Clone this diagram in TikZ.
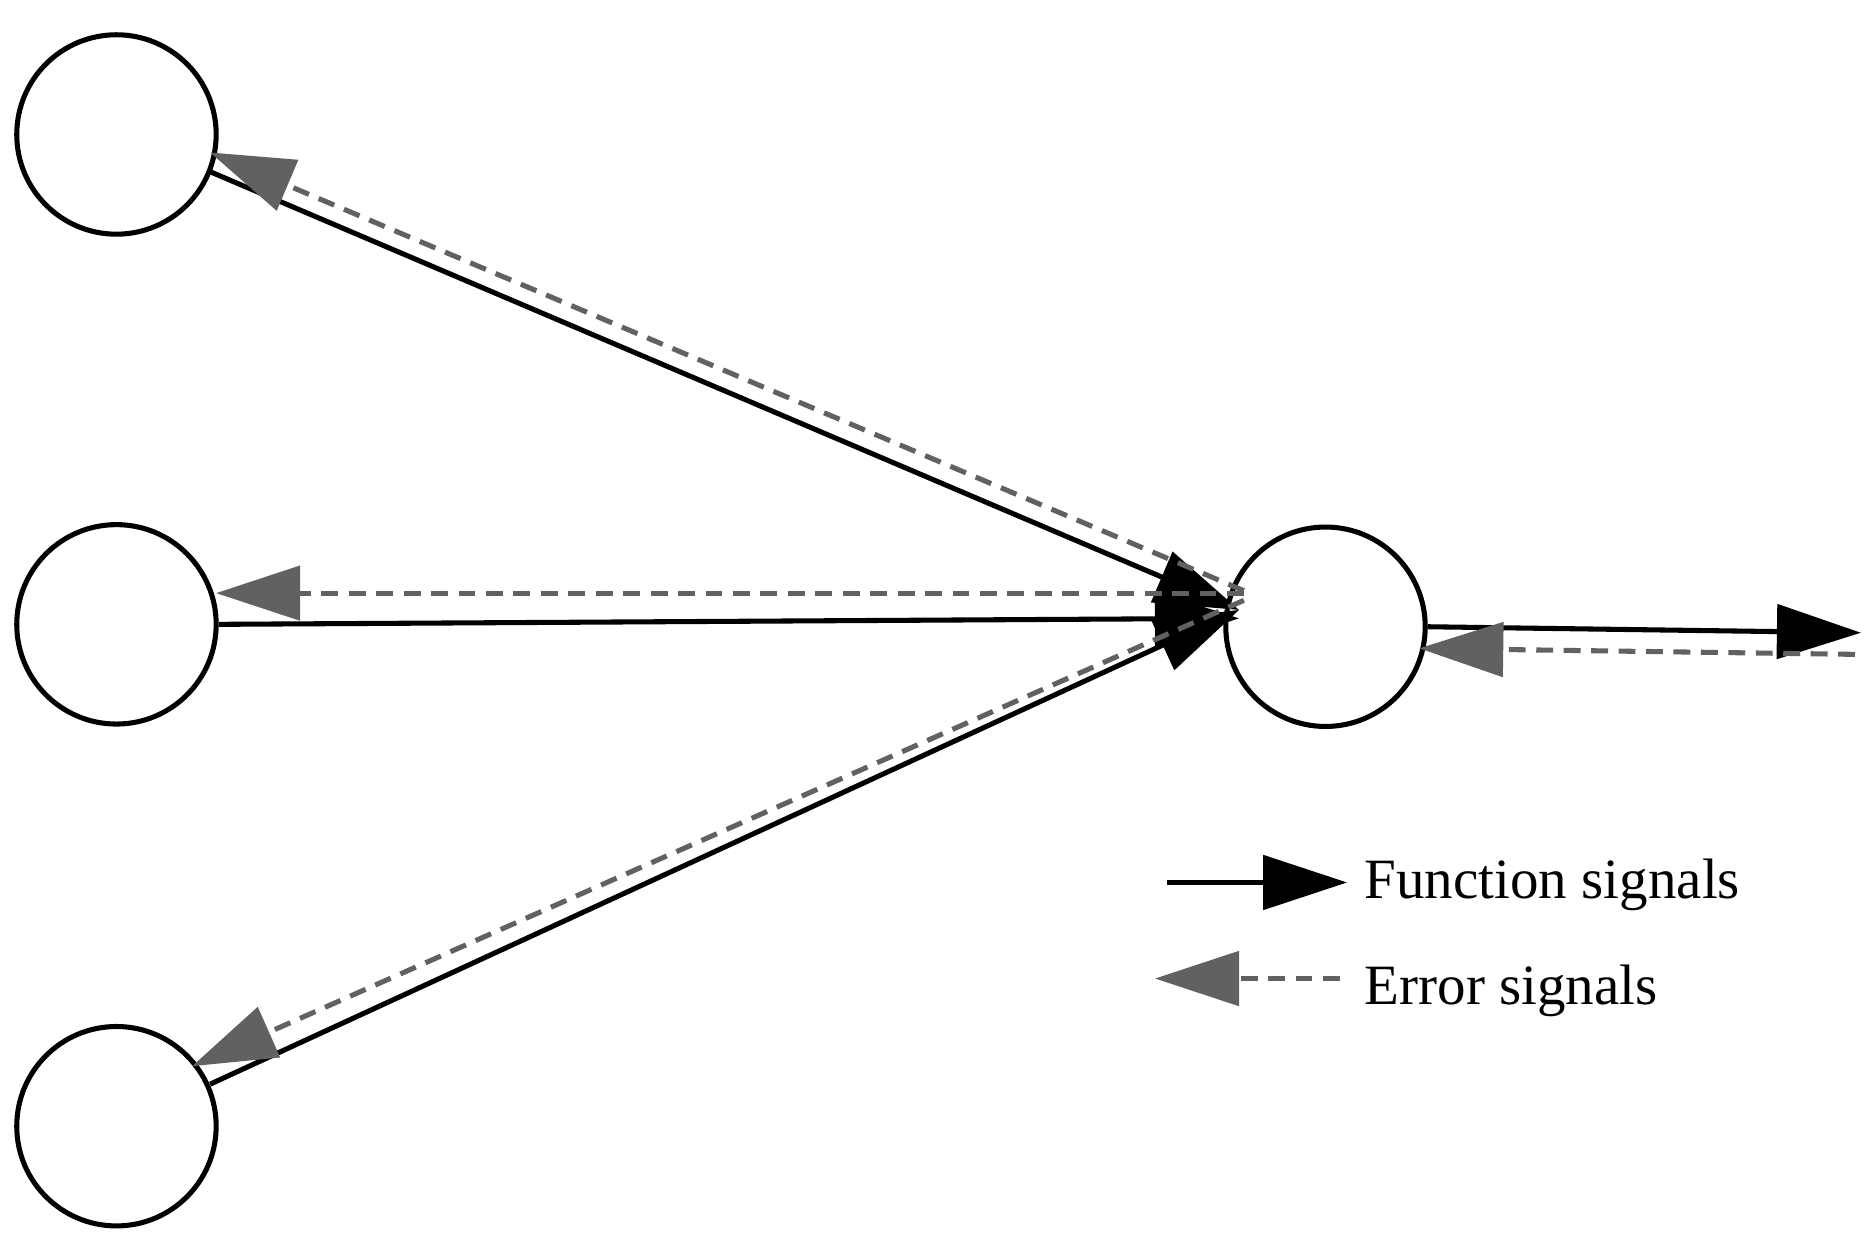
\documentclass[tikz,border=0pt]{standalone}
\usepackage{fontspec}
\setmainfont{Liberation Serif}
\usetikzlibrary{arrows.meta}
\begin{document}
\begin{tikzpicture}[x=0.01cm,y=-0.01cm,
  neuron/.style={circle,draw=black,line width=1.2pt,minimum size=1.66cm,inner sep=0pt},
  func/.style={line width=1.2pt,-{Triangle[length=0.7cm,width=0.45cm]}},
  err/.style={line width=1.2pt,draw=black!62,dash pattern=on 4pt off 2.5pt,-{Triangle[length=0.7cm,width=0.45cm,fill=black!62]}},
  lbl/.style={anchor=west,font=\fontsize{13.5}{15}\selectfont,inner sep=0pt}]
\useasboundingbox (0,0) rectangle (1560,1036);
\node[neuron] (A) at (97,112) {};
\node[neuron] (B) at (97,520) {};
\node[neuron] (C) at (97,938) {};
\node[neuron] (D) at (1104,522) {};
\coordinate (t) at (1032,508);
\coordinate (out) at (1550,527);
\coordinate (eo) at (1545,545);
\coordinate (e1) at (1036,492);
\coordinate (e2) at (1036,494);
\coordinate (e3) at (1036,500);
\coordinate (a1) at (175,127);
\coordinate (a2) at (180,494);
\coordinate (a3) at (160,888);
\coordinate (dd) at (1182,540);
\draw[func] (175,143) -- (t);
\draw[func] (B.east) -- (1032,515);
\draw[func] (175,903) -- (t);
\draw[func] (D.east) -- (out);
\draw[err] (e1) -- (a1);
\draw[err] (e2) -- (a2);
\draw[err] (e3) -- (a3);
\draw[err] (eo) -- (dd);
% legend
\coordinate (f0) at (972,735); \coordinate (f1) at (1122,735);
\draw[func] (f0) -- (f1);
\node[lbl] (ft) at (1136,737) {Function signals};
\coordinate (g0) at (1116,815); \coordinate (g1) at (962,815);
\draw[err] (g0) -- (g1);
\node[lbl] (gt) at (1136,825) {Error signals};
\end{tikzpicture}
\end{document}
